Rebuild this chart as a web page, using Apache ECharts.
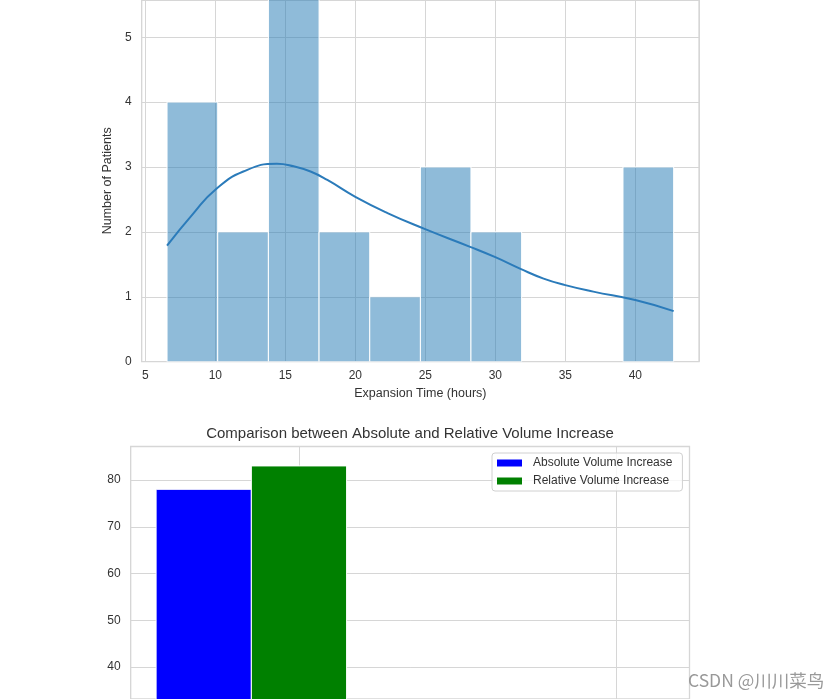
<!DOCTYPE html>
<html><head><meta charset="utf-8">
<script src="https://cdn.jsdelivr.net/npm/echarts@6/dist/echarts.min.js"></script>
<style>html,body{margin:0;padding:0;background:#fff}#c{width:839px;height:699px}</style>
</head><body><div id="c"></div>
<script>
// ---- Histogram of expansion time ----
const binEdges = [6.55, 10.17, 13.79, 17.41, 21.03, 24.65, 28.26, 31.88, 35.50, 39.12, 42.74];
const binCounts = [4, 2, 6, 2, 1, 3, 2, 0, 0, 3];
const kdeX = [6.55, 8.45, 10.0, 12.0, 14.4, 15.6, 16.8, 18.0, 20.0, 22.3, 24.9, 28.2, 30.0, 31.8, 33.45, 35.0, 37.0, 40.0, 42.74];
const kdeY = [1.79, 2.29, 2.65, 2.93, 3.05, 3.01, 2.93, 2.80, 2.54, 2.29, 2.05, 1.77, 1.61, 1.43, 1.28, 1.18, 1.08, 0.95, 0.78];
const histXName = 'Expansion Time (hours)';
const histYName = 'Number of Patients';

// ---- Comparison bars ----
const compTitle = 'Comparison between Absolute and Relative Volume Increase';
const compPositions = [0];
const absoluteIncrease = [78];
const relativeIncrease = [83];
const compSeriesNames = ['Absolute Volume Increase', 'Relative Volume Increase'];
const watermark = 'CSDN @川川菜鸟';

const FONT = "'Liberation Sans', Arial, sans-serif";
const GRID = '#d6d6d6';
const TXT = '#333';

const histData = binCounts.map((c, i) => [binEdges[i], binEdges[i + 1], c]);
const kdeData = kdeX.map((x, i) => [x, kdeY[i]]);

function histRender(params, api) {
  const c = api.value(2);
  if (!c) return null;
  const p0 = api.coord([api.value(0), c]);
  const p1 = api.coord([api.value(1), 0]);
  return {
    type: 'rect',
    shape: { x: p0[0], y: p0[1], width: p1[0] - p0[0], height: p1[1] - p0[1] },
    style: { fill: 'rgba(31,119,180,0.5)', stroke: '#fff', lineWidth: 1 }
  };
}
function barRender(offset, color) {
  return function (params, api) {
    const x = api.value(0) + offset;
    const p0 = api.coord([x - 0.15, api.value(1)]);
    const p1 = api.coord([x + 0.15, 0]);
    return {
      type: 'rect',
      shape: { x: p0[0], y: p0[1], width: p1[0] - p0[0], height: p1[1] - p0[1] },
      style: { fill: color, stroke: '#fff', lineWidth: 1 }
    };
  };
}

const chart = echarts.init(document.getElementById('c'), null, { renderer: 'canvas' });
chart.setOption({
  animation: false,
  backgroundColor: '#fff',
  textStyle: { fontFamily: FONT },
  title: {
    text: compTitle, left: 405, top: 421, textAlign: 'center',
    textStyle: { fontSize: 15, fontWeight: 'normal', color: TXT, fontFamily: FONT }
  },
  legend: {
    data: compSeriesNames,
    orient: 'vertical', left: 492, top: 453,
    padding: [3, 10, 3, 5], itemGap: 4,
    itemWidth: 25, itemHeight: 7, icon: 'rect',
    backgroundColor: 'rgba(255,255,255,0.8)', borderColor: '#d0d0d0', borderWidth: 1, borderRadius: 3,
    textStyle: { fontSize: 12, color: TXT, fontFamily: FONT, padding: [0, 0, 0, 6], lineHeight: 14 }
  },
  grid: [
    { left: 141.7, right: 140, top: 0, bottom: 337.3, show: true, borderColor: GRID, borderWidth: 1.3, backgroundColor: 'transparent' },
    { left: 130.7, right: 149.5, top: 446.5, bottom: 0, show: true, borderColor: GRID, borderWidth: 1.3, backgroundColor: 'transparent' }
  ],
  xAxis: [
    {
      gridIndex: 0, type: 'value', min: 4.74, max: 44.55, splitNumber: 8,
      axisLine: { show: false }, axisTick: { show: false },
      axisLabel: { fontSize: 12, color: TXT, margin: 8, showMinLabel: false, showMaxLabel: false, fontFamily: FONT },
      splitLine: { show: true, lineStyle: { color: GRID, width: 1 } },
      name: histXName, nameLocation: 'middle', nameGap: 21,
      nameTextStyle: { fontSize: 12.5, color: TXT, fontFamily: FONT }
    },
    {
      gridIndex: 1, type: 'value', min: -0.53, max: 1.23, splitNumber: 2,
      axisLine: { show: false }, axisTick: { show: false }, axisLabel: { show: false },
      splitLine: { show: true, lineStyle: { color: GRID, width: 1 } }
    }
  ],
  yAxis: [
    {
      gridIndex: 0, type: 'value', min: 0, max: 5.573, interval: 1,
      axisLine: { show: false }, axisTick: { show: false },
      axisLabel: { fontSize: 12, color: TXT, margin: 10, showMaxLabel: false, fontFamily: FONT },
      splitLine: { show: true, lineStyle: { color: GRID, width: 1 } },
      name: histYName, nameLocation: 'middle', nameGap: 19,
      nameTextStyle: { fontSize: 12.5, color: TXT, fontFamily: FONT }
    },
    {
      gridIndex: 1, type: 'value', min: 33.2, max: 87.15, splitNumber: 5,
      axisLine: { show: false }, axisTick: { show: false },
      axisLabel: { fontSize: 12, color: TXT, margin: 10, showMinLabel: false, showMaxLabel: false, fontFamily: FONT },
      splitLine: { show: true, lineStyle: { color: GRID, width: 1 } }
    }
  ],
  series: [
    {
      type: 'custom', name: 'hist', xAxisIndex: 0, yAxisIndex: 0,
      renderItem: histRender, data: histData, encode: { x: [0, 1], y: 2 }, clip: true, z: 2
    },
    {
      type: 'line', name: 'kde', xAxisIndex: 0, yAxisIndex: 0, data: kdeData,
      smooth: 0.5, showSymbol: false, lineStyle: { color: '#2b7bba', width: 2 }, z: 3
    },
    {
      type: 'custom', name: compSeriesNames[0], xAxisIndex: 1, yAxisIndex: 1,
      renderItem: barRender(-0.3, '#0000ff'), itemStyle: { color: '#0000ff' },
      data: compPositions.map((p, i) => [p, absoluteIncrease[i]]), encode: { x: 0, y: 1 }, clip: true
    },
    {
      type: 'custom', name: compSeriesNames[1], xAxisIndex: 1, yAxisIndex: 1,
      renderItem: barRender(0, '#008000'), itemStyle: { color: '#008000' },
      data: compPositions.map((p, i) => [p, relativeIncrease[i]]), encode: { x: 0, y: 1 }, clip: true
    }
  ],
  graphic: [
    {
      type: 'text', left: 688, top: 672, z: 100,
      style: { text: watermark, fontSize: 17.5, fill: '#999', fontFamily: "'Noto Sans CJK SC', 'Liberation Sans', sans-serif" }
    }
  ]
});
</script>
</body></html>
